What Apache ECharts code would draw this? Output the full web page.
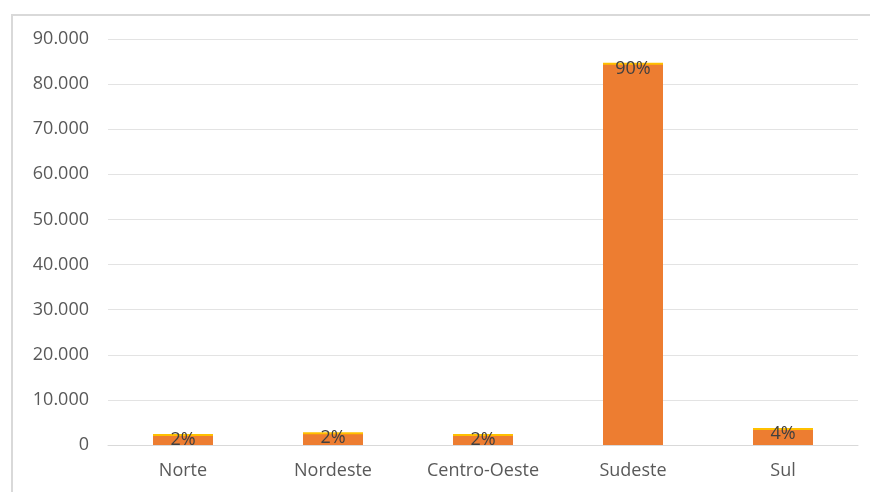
<!DOCTYPE html>
<html><head><meta charset="utf-8">
<script src="https://cdn.jsdelivr.net/npm/echarts@6/dist/echarts.min.js"></script>
<style>html,body{margin:0;padding:0;background:#fff}#c{width:870px;height:492px}</style>
</head><body><div id="c"></div>
<script>
const categories = ['Norte', 'Nordeste', 'Centro-Oeste', 'Sudeste', 'Sul'];
const values = [2000, 2400, 2000, 84300, 3300];
const pctLabels = ['2%', '2%', '2%', '90%', '4%'];
const yTicks = [0, 10000, 20000, 30000, 40000, 50000, 60000, 70000, 80000, 90000];

function fmt(v){ return v === 0 ? '0' : String(v).replace(/\B(?=(\d{3})+(?!\d))/g, '.'); }

const chart = echarts.init(document.getElementById('c'), null, {renderer:'canvas'});
chart.setOption({
  animation: false,
  backgroundColor: '#fff',
  graphic: [{
    type: 'polyline', silent: true,
    shape: { points: [[12, 500], [12, 15], [870, 15]] },
    style: { stroke: '#d9d9d9', lineWidth: 2, fill: null }
  }],
  grid: { left: 108, right: 12, top: 39, bottom: 47 },
  xAxis: {
    type: 'category', data: categories,
    axisLine: { lineStyle: { color: '#d9d9d9', width: 1 } },
    axisTick: { show: false },
    axisLabel: { color: '#595959', fontSize: 18, fontFamily: 'Open Sans', margin: 17 }
  },
  yAxis: {
    type: 'value', min: 0, max: yTicks[yTicks.length-1], interval: 10000,
    axisLine: { show: false }, axisTick: { show: false },
    splitLine: { lineStyle: { color: '#e3e3e3', width: 1 } },
    axisLabel: { color: '#595959', fontSize: 18, fontFamily: 'Open Sans', margin: 19, formatter: fmt }
  },
  series: [{
    type: 'bar', data: values, barWidth: 60,
    itemStyle: { color: '#ED7D31', shadowColor: '#FFC000', shadowOffsetY: -2, shadowBlur: 0 },
    label: {
      show: true, position: 'insideTop', distance: -5,
      color: '#404040', fontSize: 18, fontFamily: 'Open Sans',
      formatter: p => pctLabels[p.dataIndex]
    }
  }]
});
</script></body></html>
